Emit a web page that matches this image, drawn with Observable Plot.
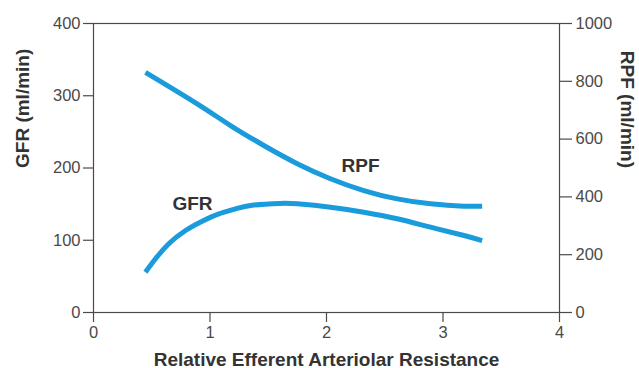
<!DOCTYPE html>
<html>
<head>
<meta charset="utf-8">
<script src="https://cdn.jsdelivr.net/npm/d3@7"></script>
<script src="https://cdn.jsdelivr.net/npm/@observablehq/plot@0.6"></script>
<style>
  html, body { margin: 0; padding: 0; background: #fff; }
</style>
</head>
<body>
<div id="chart"></div>
<script>
// Relative efferent arteriolar resistance (x) for GFR
const gfrX = [0.446, 0.532, 0.646, 0.790, 0.933, 1.076, 1.219, 1.362, 1.6, 1.749, 2.034, 2.32, 2.607, 2.893, 3.18, 3.336];
// GFR (ml/min), left axis
const gfr = [55.8, 74.3, 95.1, 113.5, 126.4, 136.6, 143.5, 148.5, 151, 150.4, 145.7, 138.8, 129.7, 118.1, 106.6, 99.6];
// RPF (ml/min), right axis
const rpfX = [0.446, 0.89, 1.176, 1.462, 1.749, 2.034, 2.32, 2.607, 2.893, 3.18, 3.336];
const rpf = [831, 722, 647, 578, 515, 463, 422, 393, 376, 368, 368];

const xTicks = [0, 1, 2, 3, 4];
const gfrTicks = [0, 100, 200, 300, 400];
const rpfTicks = [0, 200, 400, 600, 800, 1000];
const rpfPerGfr = 2.5; // 1000 RPF aligns with 400 GFR

const seriesLabels = [
  {x: 0.85, y: 150.2, t: "GFR"},
  {x: 2.292, y: 203.5, t: "RPF"}
];

const gfrData = gfrX.map((x, i) => ({x, y: gfr[i]}));
const rpfData = rpfX.map((x, i) => ({x, y: rpf[i] / rpfPerGfr}));

const ink = "#4a4a4a";
const blue = "#1a9bdb";
const titleFont = {fontSize: 19, fontWeight: "bold", fill: "#333"};

const chart = Plot.plot({
  width: 639,
  height: 368,
  marginLeft: 93,
  marginRight: 80,
  marginTop: 23,
  marginBottom: 56,
  style: {fontFamily: "'Liberation Sans', Arial, Helvetica, sans-serif", fontSize: "16.5px", color: ink, background: "#fff"},
  x: {domain: [0, 4]},
  y: {domain: [0, 400]},
  marks: [
    Plot.frame({stroke: ink, strokeWidth: 1.2}),
    Plot.axisX({ticks: xTicks, tickFormat: d3.format("d"), tickSize: 10, tickPadding: 4, stroke: ink, strokeWidth: 1.2, fill: ink,
      label: null, fontSize: 16.5}),
    Plot.axisY({anchor: "left", ticks: gfrTicks, tickSize: 10, tickPadding: 3, stroke: ink, strokeWidth: 1.2, fill: ink,
      label: null, fontSize: 16.5}),
    Plot.axisY({anchor: "right", ticks: rpfTicks.map(d => d / rpfPerGfr), tickFormat: d => String(Math.round(d * rpfPerGfr)),
      tickSize: 12, tickPadding: 4, stroke: ink, strokeWidth: 1.2, fill: ink, label: null, fontSize: 16.5}),
    Plot.text(["Relative Efferent Arteriolar Resistance"], {frameAnchor: "bottom", dy: 53, lineAnchor: "bottom", ...titleFont}),
    Plot.text(["GFR (ml/min)"], {frameAnchor: "left", dx: -71, rotate: -90, lineAnchor: "middle", ...titleFont}),
    Plot.text(["RPF (ml/min)"], {frameAnchor: "right", dx: 68, rotate: 90, lineAnchor: "middle", ...titleFont}),
    Plot.line(rpfData, {x: "x", y: "y", curve: "natural", stroke: blue, strokeWidth: 5, strokeLinecap: "butt"}),
    Plot.line(gfrData, {x: "x", y: "y", curve: "natural", stroke: blue, strokeWidth: 5, strokeLinecap: "butt"}),
    Plot.text(seriesLabels, {x: "x", y: "y", text: "t", fontSize: 19, fontWeight: "bold", fill: "#333"})
  ]
});

document.getElementById("chart").appendChild(chart);
</script>
</body>
</html>
